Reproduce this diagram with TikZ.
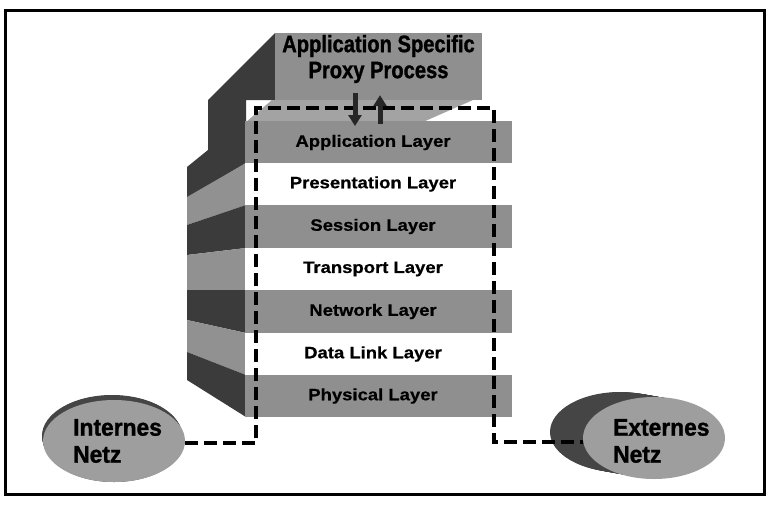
\documentclass[tikz,border=0pt]{standalone}
\usepackage{fontspec}
\setmainfont{Liberation Sans}
\newfontfamily\layerfont[FakeStretch=1.12,FakeBold=0.6]{Liberation Sans}
\newfontfamily\condfont[FakeStretch=0.85,FakeBold=1.2]{Liberation Sans}
\newfontfamily\netzfont[FakeStretch=0.95,FakeBold=1.2]{Liberation Sans}
\usetikzlibrary{shapes.geometric,arrows.meta}
\definecolor{midgray}{gray}{0.56}
\definecolor{darkside}{gray}{0.23}
\definecolor{lightside}{gray}{0.57}
\definecolor{topface}{gray}{0.64}
\definecolor{netzgray}{gray}{0.62}
\definecolor{cylgray}{gray}{0.27}
\begin{document}
\begin{tikzpicture}[x=1pt,y=-1pt,
  layer/.style={rectangle, minimum width=267pt, minimum height=42.5pt, inner sep=0pt,
    font={\layerfont\bfseries\fontsize{16.5pt}{18pt}\selectfont},
    execute at begin node={\hspace*{-11pt}}},
  graylayer/.style={layer, fill=midgray},
  whitelayer/.style={layer, fill=white},
  darkface/.style={fill=darkside},
  lightface/.style={fill=lightside},
  proxybox/.style={rectangle, minimum width=207pt, minimum height=67pt, inner sep=0pt, fill=midgray},
  proxytxt/.style={align=center, inner sep=0pt,
    font={\condfont\bfseries\fontsize{23.7pt}{26pt}\selectfont}},
  netz/.style={ellipse, minimum width=142pt, minimum height=82pt, inner sep=0pt, fill=netzgray},
  netztxt/.style={align=left, inner sep=0pt, anchor=west,
    font={\netzfont\bfseries\fontsize{24pt}{27pt}\selectfont}},
  netline/.style={line width=3.5pt, dash pattern=on 13pt off 6pt},
  arr/.style={line width=5pt, draw=black!85, -{Triangle[width=13pt,length=11pt]}}
]
\useasboundingbox (0,0) rectangle (768,504);
\fill[white] (0,0) rectangle (768,504);
\draw[line width=3pt] (5,10) rectangle (764,494);

% side faces of the stack and of the proxy box
\path[darkface] (275,33) -- (208,100) -- (208,150) -- (187,167) -- (187,198) -- (246,163) -- (246,100) -- (276,100) -- cycle;
\path[lightface] (246,163) -- (187,197) -- (187,225) -- (246,205) -- cycle;
\path[darkface]  (246,205) -- (187,225) -- (187,255) -- (246,248) -- cycle;
\path[lightface] (246,248) -- (187,255) -- (187,290) -- (246,290) -- cycle;
\path[darkface]  (246,290) -- (187,290) -- (187,320) -- (246,333) -- cycle;
\path[lightface] (246,333) -- (187,320) -- (187,352) -- (246,375) -- cycle;
\path[darkface]  (246,375) -- (187,352) -- (187,380) -- (246,417) -- cycle;

% top face of the application layer
\fill[topface] (245,123) -- (253,116) -- (272,100) -- (473,100) -- (423,122) -- cycle;

% proxy box
\node[proxybox] (proxy) at (378.5,66.5) {};
\node[proxytxt] (proxylbl) at ([yshift=7.5pt]proxy.center) {Application Specific\\Proxy Process};

% layers
\node[graylayer]  (app)  at (378.5,142.5) {Application Layer};
\node[whitelayer] (pres) at (378.5,184)   {Presentation Layer};
\node[graylayer]  (sess) at (378.5,226.5) {Session Layer};
\node[whitelayer] (trans) at (378.5,269)  {Transport Layer};
\node[graylayer]  (net)  at (378.5,311.5) {Network Layer};
\node[whitelayer] (dl)   at (378.5,354)   {Data Link Layer};
\node[graylayer]  (phys) at (378.5,396)   {Physical Layer};

% networks
\foreach \i in {0,...,10} {\fill[cylgray] ({112+2*\i/10},{436+5*\i/10}) ellipse [x radius=70pt, y radius=41pt];}
\node[netz] (intern) at (114,441) {};
\node[netztxt] (internlbl) at (73,441) {Internes\\Netz};
\foreach \i in {0,...,20} {\fill[cylgray] ({620+34*\i/20},{432+6*\i/20}) ellipse [x radius=70pt, y radius=40pt];}
\node[netz] (extern) at (654,438) {};
\node[netztxt] (externlbl) at (613,441) {Externes\\Netz};

% dashed path through the proxy
\coordinate (tl) at (256,108);
\coordinate (tr) at (494,108);
\draw[netline] ([yshift=-2pt]intern.east) -| (tl) -- (tr) |- ([yshift=-4pt]extern.west);

% arrows between proxy and application layer
\draw[arr] ([xshift=-23.5pt,yshift=7pt]proxy.south) -- ([xshift=-23.5pt,yshift=-5pt]app.north);
\draw[arr] ([xshift=1.5pt,yshift=-3pt]app.north) -- ([xshift=1.5pt,yshift=5pt]proxy.south);
\end{tikzpicture}
\end{document}
